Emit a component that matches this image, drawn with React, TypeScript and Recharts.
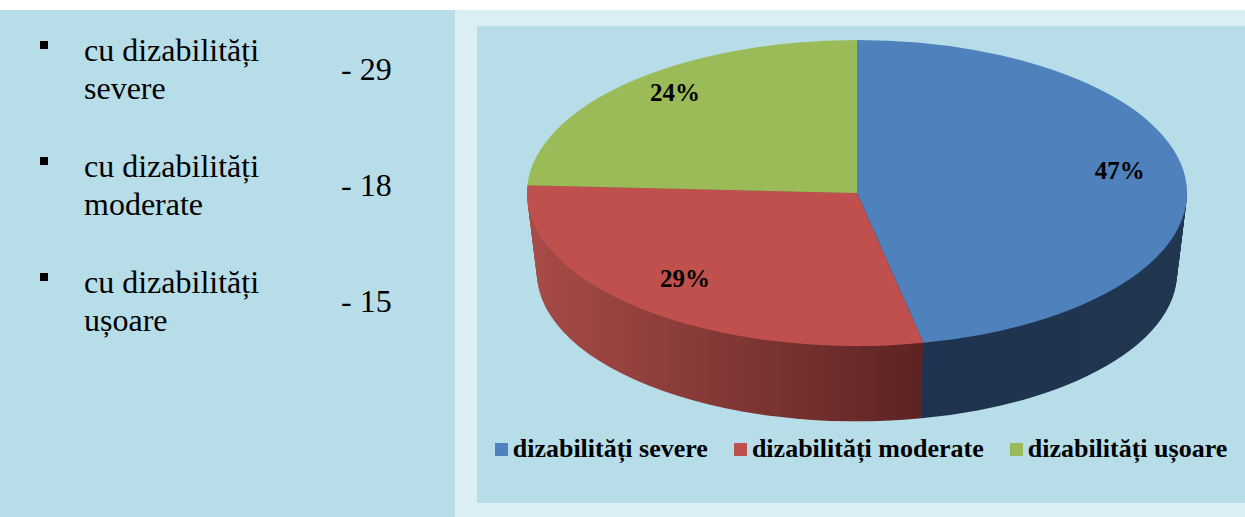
import React from "react";
import { PieChart, Pie, Cell, Legend } from "recharts";

// values read from the document (count per group)
const categories = ["dizabilități severe", "dizabilități moderate", "dizabilități ușoare"];
const counts = [29, 18, 15];
const listWords = ["severe", "moderate", "ușoare"];

const topColors = ["#4f81bd", "#c0504d", "#9bbb59"];
const sideColors = ["url(#sideBlue)", "url(#sideRed)", "#6f8a3a"];

const data = categories.map((name, i) => ({ name, value: counts[i] }));

const W = 768;
const H = 477;
const CX = 380;
const CY = 167;
const R = 330;
const K = 0.4636; // vertical squash of the tilted disc
const DEPTH = 80;
const SHRINK = 10;
const LAYERS = 40;

const layers = Array.from({ length: LAYERS }, (_, i) => LAYERS - i).map((j) => {
  const t = j / LAYERS;
  return { cy: CY + (t * DEPTH) / K, r: R - t * SHRINK };
});

const css = `
.pie3d .recharts-pie { transform-origin: ${CX}px ${CY}px; transform: scaleY(${K}); }
`;

const serif = '"Liberation Serif", Tinos, "Times New Roman", serif';

// labels sit outside the squashed layer, so place them in screen space
const renderLabel = (p: any) => {
  const rad = Math.PI / 180;
  const x = CX + R * 0.8 * Math.cos(-p.midAngle * rad);
  const y = CY - 10 + R * 0.82 * Math.sin(-p.midAngle * rad) * K;
  return (
    <text
      x={x}
      y={y}
      textAnchor="middle"
      dominantBaseline="central"
      fontFamily={serif}
      fontWeight="bold"
      fontSize={25}
      fill="#000"
    >
      {Math.round(p.percent * 100)}%
    </text>
  );
};

const renderLegend = () => (
  <div
    style={{
      display: "flex",
      justifyContent: "center",
      gap: 26,
      fontFamily: serif,
      fontWeight: "bold",
      fontSize: 26,
      color: "#000",
      whiteSpace: "nowrap",
    }}
  >
    {categories.map((c, i) => (
      <span key={c} style={{ display: "inline-flex", alignItems: "center" }}>
        <span style={{ width: 13, height: 13, background: topColors[i], marginRight: 5, display: "inline-block" }} />
        {c}
      </span>
    ))}
  </div>
);

const App = () => {
  return (
    <div style={{ position: "absolute", left: 0, top: 0, width: 1245, height: 517, background: "#fff", overflow: "hidden" }}>
      <style>{css}</style>
      <div style={{ position: "absolute", left: 0, top: 10, width: 455, height: 507, background: "#b7dde8" }} />
      <div style={{ position: "absolute", left: 455, top: 10, width: 790, height: 507, background: "#dbeef3" }} />

      {listWords.map((w, i) => (
        <React.Fragment key={w}>
          <div style={{ position: "absolute", left: 40, top: 41 + i * 116, width: 8, height: 8, background: "#000" }} />
          <div
            style={{
              position: "absolute",
              left: 84,
              top: 31 + i * 116,
              fontFamily: serif,
              fontSize: 32,
              lineHeight: "38px",
              color: "#000",
            }}
          >
            cu dizabilități
            <br />
            {w}
          </div>
          <div
            style={{
              position: "absolute",
              left: 341,
              top: 50 + i * 116,
              fontFamily: serif,
              fontSize: 32,
              lineHeight: "38px",
              color: "#000",
            }}
          >
            - {counts[i]}
          </div>
        </React.Fragment>
      ))}

      <div className="pie3d" style={{ position: "absolute", left: 477, top: 26, width: W, height: H, background: "#b7dde8" }}>
        <PieChart width={W} height={H} margin={{ top: 0, right: 0, bottom: 0, left: 0 }}>
          <defs>
            <linearGradient id="sideRed" x1={51} y1={0} x2={460} y2={0} gradientUnits="userSpaceOnUse">
              <stop offset="0%" stopColor="#a84c48" />
              <stop offset="100%" stopColor="#5a2222" />
            </linearGradient>
            <linearGradient id="sideBlue" x1={460} y1={0} x2={710} y2={0} gradientUnits="userSpaceOnUse">
              <stop offset="0%" stopColor="#1f3350" />
              <stop offset="100%" stopColor="#21364f" />
            </linearGradient>
          </defs>
          {layers.map((l, li) => (
            <Pie
              key={`side-${li}`}
              data={data}
              dataKey="value"
              nameKey="name"
              cx={CX}
              cy={l.cy}
              outerRadius={l.r}
              startAngle={90}
              endAngle={-270}
              stroke="none"
              legendType="none"
              isAnimationActive={false}
            >
              {data.map((d, i) => (
                <Cell key={d.name} fill={sideColors[i]} />
              ))}
            </Pie>
          ))}
          <Pie
            data={data}
            dataKey="value"
            nameKey="name"
            cx={CX}
            cy={CY}
            outerRadius={R}
            startAngle={90}
            endAngle={-270}
            stroke="none"
            label={renderLabel}
            labelLine={false}
            isAnimationActive={false}
          >
            {data.map((d, i) => (
              <Cell key={d.name} fill={topColors[i]} />
            ))}
          </Pie>
          <Legend content={renderLegend} wrapperStyle={{ position: "absolute", top: 408, left: 0, width: W }} />
        </PieChart>
      </div>
    </div>
  );
};

export default App;
